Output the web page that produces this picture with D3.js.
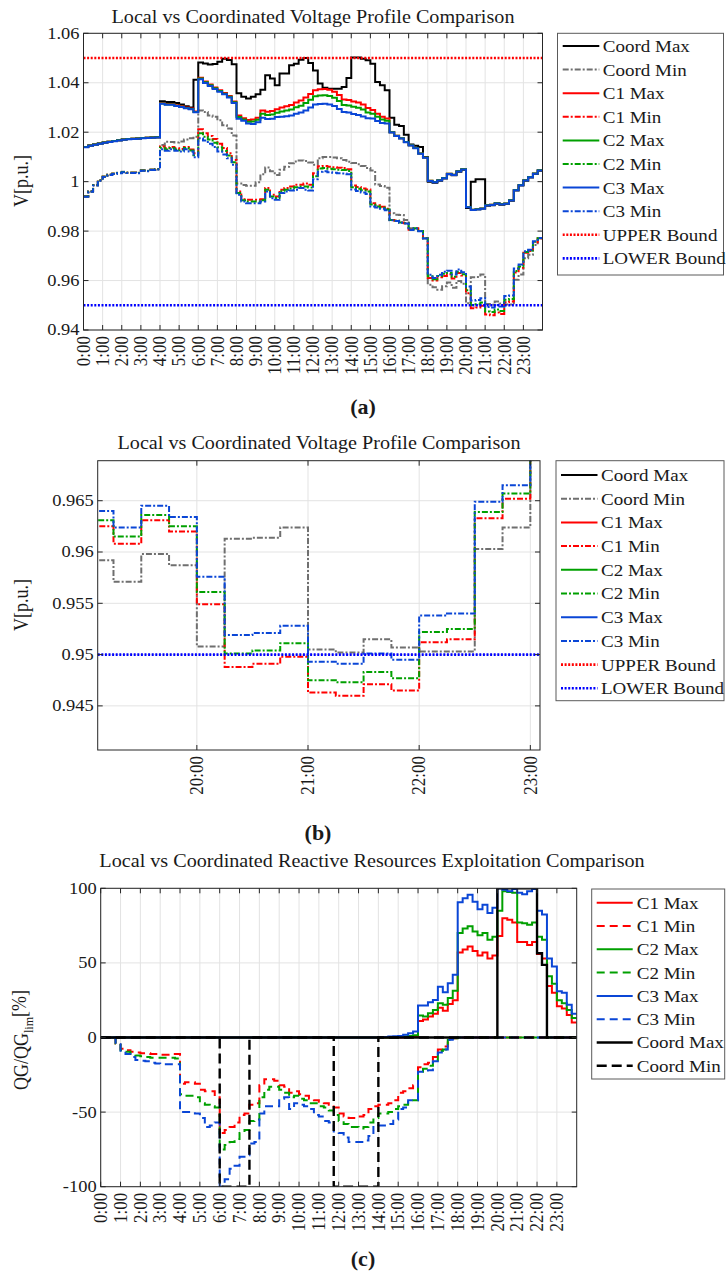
<!DOCTYPE html>
<html><head><meta charset="utf-8">
<script src="https://cdn.jsdelivr.net/npm/d3@7"></script>
<style>
body{margin:0;background:#fff;}
text{font-family:"Liberation Serif","Times New Roman",serif;fill:#1a1a1a;}
</style></head><body>
<svg id="fig" width="726" height="1277" xmlns="http://www.w3.org/2000/svg"></svg>
<script>
// ---------- categories / ticks ----------
const timeSteps = d3.range(96).map(i => i * 0.25);   // quarter-hour steps (hours)
const hourTicks = d3.range(24);
const hourLabels = hourTicks.map(h => h + ":00");
const zoomHourTicks = [20, 21, 22, 23];
const voltTicksA = [0.94, 0.96, 0.98, 1.00, 1.02, 1.04, 1.06];
const voltLabelsA = ["0.94", "0.96", "0.98", "1", "1.02", "1.04", "1.06"];
const voltTicksB = [0.945, 0.95, 0.955, 0.96, 0.965];
const voltLabelsB = ["0.945", "0.95", "0.955", "0.96", "0.965"];
const qTicks = [-100, -50, 0, 50, 100];
const qLabels = ["-100", "-50", "0", "50", "100"];
const boundUpper = 1.05;
const boundLower = 0.95;

// ---------- voltage series (p.u.) ----------
const coordMaxV = [1.0140,1.0146,1.0150,1.0154,1.0158,1.0161,1.0164,1.0167,1.0170,1.0172,1.0174,1.0175,1.0177,1.0178,1.0179,1.0180,
1.0325,1.0322,1.0322,1.0318,1.0312,1.0305,1.0300,1.0412,
1.0482,1.0478,1.0474,1.0476,1.0485,1.0497,1.0492,1.0475,
1.0358,1.0343,1.0336,1.0343,1.0353,1.0372,1.0430,1.0417,
1.0390,1.0437,1.0437,1.0471,1.0477,1.0493,1.0500,1.0480,
1.0450,1.0397,1.0380,1.0376,1.0376,1.0376,1.0383,1.0419,
1.0502,1.0502,1.0497,1.0491,1.0477,1.0403,1.0390,1.0370,
1.0258,1.0230,1.0225,1.0190,1.0150,1.0145,1.0140,1.0100,
1.0000,0.9996,1.0004,1.0013,1.0030,1.0026,1.0040,1.0048,
0.9893,1.0000,1.0010,1.0010,0.9903,0.9905,0.9911,0.9907,
0.9910,0.9923,0.9964,0.9984,1.0004,1.0017,1.0031,1.0044];
const coordMinV = [0.9941,0.9961,0.9986,1.0006,1.0021,1.0029,1.0033,1.0036,1.0040,1.0037,1.0037,1.0036,1.0046,1.0044,1.0049,1.0051,
1.0148,1.0161,1.0160,1.0158,1.0162,1.0170,1.0176,1.0182,
1.0288,1.0282,1.0268,1.0262,1.0248,1.0228,1.0215,1.0187,
0.9993,0.9986,0.9983,0.9983,0.9998,1.0030,1.0057,1.0042,
1.0027,1.0048,1.0060,1.0074,1.0081,1.0086,1.0084,1.0077,
1.0068,1.0095,1.0100,1.0100,1.0098,1.0095,1.0088,1.0080,
1.0075,1.0070,1.0063,1.0055,1.0045,0.9988,0.9982,0.9975,
0.9872,0.9866,0.9865,0.9845,0.9812,0.9810,0.9800,0.9771,
0.9583,0.9573,0.9563,0.9577,0.9592,0.9571,0.9598,0.9587,
0.9508,0.9613,0.9614,0.9624,0.9505,0.9502,0.9515,0.9507,
0.9503,0.9503,0.9603,0.9624,0.9690,0.9704,0.9744,0.9771];
const c1MaxV = [1.0140,1.0146,1.0150,1.0154,1.0158,1.0161,1.0164,1.0167,1.0170,1.0172,1.0174,1.0175,1.0177,1.0178,1.0179,1.0180,
1.0318,1.0314,1.0314,1.0309,1.0305,1.0300,1.0296,1.0284,
1.0420,1.0405,1.0393,1.0381,1.0370,1.0359,1.0346,1.0324,
1.0268,1.0256,1.0249,1.0251,1.0258,1.0288,1.0283,1.0286,
1.0293,1.0300,1.0305,1.0310,1.0320,1.0328,1.0340,1.0355,
1.0370,1.0374,1.0375,1.0372,1.0364,1.0350,1.0332,1.0330,
1.0324,1.0320,1.0312,1.0298,1.0290,1.0275,1.0262,1.0255,
1.0200,1.0186,1.0176,1.0160,1.0147,1.0136,1.0114,1.0098,
1.0004,0.9999,1.0006,1.0015,1.0032,1.0028,1.0042,1.0050,
0.9897,0.9886,0.9888,0.9891,0.9905,0.9907,0.9913,0.9909,
0.9912,0.9925,0.9966,0.9986,1.0006,1.0019,1.0033,1.0046];
const c1MinV = [0.9940,0.9960,0.9985,1.0005,1.0020,1.0028,1.0032,1.0035,1.0039,1.0036,1.0036,1.0035,1.0045,1.0043,1.0048,1.0050,
1.0142,1.0135,1.0140,1.0135,1.0132,1.0140,1.0130,1.0115,
1.0212,1.0196,1.0185,1.0172,1.0153,1.0136,1.0115,1.0088,
0.9960,0.9929,0.9927,0.9927,0.9927,0.9929,0.9974,0.9947,
0.9940,0.9967,0.9974,0.9980,0.9987,0.9987,0.9993,0.9987,
1.0034,1.0062,1.0063,1.0060,1.0058,1.0056,1.0055,1.0050,
0.9984,0.9978,0.9972,0.9968,0.9913,0.9905,0.9898,0.9890,
0.9845,0.9842,0.9835,0.9832,0.9805,0.9812,0.9800,0.9771,
0.9610,0.9600,0.9613,0.9618,0.9625,0.9608,0.9631,0.9620,
0.9549,0.9488,0.9491,0.9498,0.9463,0.9460,0.9471,0.9465,
0.9512,0.9515,0.9633,0.9652,0.9712,0.9720,0.9755,0.9770];
const c2MaxV = [1.0140,1.0146,1.0150,1.0154,1.0158,1.0161,1.0164,1.0167,1.0170,1.0172,1.0174,1.0175,1.0177,1.0178,1.0179,1.0180,
1.0316,1.0312,1.0312,1.0307,1.0303,1.0298,1.0294,1.0282,
1.0417,1.0402,1.0390,1.0378,1.0367,1.0356,1.0343,1.0321,
1.0261,1.0251,1.0242,1.0243,1.0250,1.0275,1.0270,1.0272,
1.0279,1.0284,1.0288,1.0292,1.0301,1.0307,1.0318,1.0331,
1.0345,1.0348,1.0349,1.0346,1.0339,1.0326,1.0310,1.0308,
1.0303,1.0299,1.0292,1.0280,1.0275,1.0262,1.0251,1.0246,
1.0200,1.0186,1.0176,1.0160,1.0147,1.0136,1.0114,1.0098,
1.0004,0.9999,1.0006,1.0015,1.0032,1.0028,1.0042,1.0050,
0.9897,0.9886,0.9888,0.9891,0.9905,0.9907,0.9913,0.9909,
0.9912,0.9925,0.9966,0.9986,1.0006,1.0019,1.0033,1.0046];
const c2MinV = [0.9940,0.9960,0.9985,1.0005,1.0020,1.0028,1.0032,1.0035,1.0039,1.0036,1.0036,1.0035,1.0045,1.0043,1.0048,1.0050,
1.0137,1.0130,1.0136,1.0130,1.0127,1.0136,1.0126,1.0107,
1.0196,1.0182,1.0170,1.0157,1.0139,1.0124,1.0106,1.0078,
0.9954,0.9925,0.9920,0.9920,0.9920,0.9925,0.9967,0.9940,
0.9934,0.9961,0.9967,0.9972,0.9977,0.9980,0.9980,0.9976,
1.0022,1.0053,1.0055,1.0052,1.0050,1.0048,1.0047,1.0043,
0.9977,0.9971,0.9965,0.9960,0.9908,0.9900,0.9894,0.9887,
0.9845,0.9842,0.9835,0.9832,0.9805,0.9812,0.9800,0.9771,
0.9617,0.9605,0.9618,0.9627,0.9631,0.9615,0.9636,0.9625,
0.9561,0.9501,0.9504,0.9511,0.9475,0.9473,0.9483,0.9477,
0.9522,0.9525,0.9639,0.9657,0.9715,0.9722,0.9757,0.9771];
const c3MaxV = [1.0139,1.0145,1.0149,1.0153,1.0157,1.0160,1.0163,1.0166,1.0169,1.0171,1.0173,1.0174,1.0176,1.0177,1.0178,1.0179,
1.0315,1.0311,1.0311,1.0306,1.0302,1.0297,1.0293,1.0281,
1.0414,1.0399,1.0387,1.0375,1.0364,1.0353,1.0340,1.0318,
1.0254,1.0246,1.0235,1.0233,1.0240,1.0258,1.0253,1.0254,
1.0261,1.0262,1.0265,1.0268,1.0275,1.0280,1.0288,1.0300,
1.0312,1.0314,1.0315,1.0312,1.0306,1.0294,1.0282,1.0280,
1.0274,1.0270,1.0264,1.0256,1.0255,1.0245,1.0237,1.0235,
1.0199,1.0185,1.0175,1.0159,1.0146,1.0135,1.0113,1.0097,
1.0003,0.9998,1.0005,1.0014,1.0031,1.0027,1.0041,1.0049,
0.9896,0.9885,0.9887,0.9890,0.9904,0.9906,0.9912,0.9908,
0.9911,0.9924,0.9965,0.9985,1.0005,1.0018,1.0032,1.0045];
const c3MinV = [0.9939,0.9959,0.9984,1.0004,1.0019,1.0027,1.0031,1.0034,1.0038,1.0035,1.0035,1.0034,1.0044,1.0042,1.0047,1.0049,
1.0131,1.0125,1.0131,1.0125,1.0122,1.0131,1.0122,1.0099,
1.0176,1.0166,1.0153,1.0140,1.0122,1.0110,1.0095,1.0068,
0.9947,0.9920,0.9913,0.9913,0.9913,0.9920,0.9960,0.9933,
0.9927,0.9954,0.9960,0.9964,0.9967,0.9974,0.9967,0.9964,
1.0010,1.0040,1.0042,1.0038,1.0036,1.0034,1.0033,1.0030,
0.9968,0.9962,0.9956,0.9950,0.9899,0.9895,0.9890,0.9884,
0.9844,0.9841,0.9834,0.9831,0.9804,0.9811,0.9799,0.9770,
0.9623,0.9610,0.9623,0.9636,0.9640,0.9624,0.9645,0.9634,
0.9576,0.9519,0.9521,0.9528,0.9493,0.9491,0.9501,0.9495,
0.9538,0.9540,0.9649,0.9665,0.9718,0.9725,0.9759,0.9772];

// ---------- reactive power usage series (%) ----------
const c1MaxQ = [0,0,0,0,0,0,0,0,0,0,0,0,0,0,0,0, 0,0,0,0,0,0,0,0, 0,0,0,0,0,0,0,0, 0,0,0,0,0,0,0,0, 0,0,0,0,0,0,0,0, 0,0,0,0,0,0,0,0,
0,0,0,0,0,0.3,0.5,1,
11,12,14,16,20,18,22.5,25,
57,59,61,58,55,57,53,55,
68,80,79,77,64,64,62,64,
56,53,34.5,30,21,19.5,15,10];
const c1MinQ = [0,0,0,-4,-7.5,-8.5,-9.5,-10,-10.5,-10.5,-11,-11,-11.5,-11.5,-11,-11,
-31,-30,-30,-31,-35,-36,-36,-40,
-64,-62,-60,-57,-52,-51,-45,-44,
-32,-28,-28,-29,-32,-33,-37,-36,
-38,-39,-41,-42,-43,-44,-45,-47,
-51,-53,-54,-54,-53,-52,-48,-46,
-45,-45,-44,-42,-37,-36,-34,-32,
-20,-18,-17,-13,-8,-6,-1,-0.5,
0,0,0,0,0,0,0,0, 0,0,0,0,0,0,0,0, 0,0,0,0,0,0,0,0];
const c2MaxQ = [0,0,0,0,0,0,0,0,0,0,0,0,0,0,0,0, 0,0,0,0,0,0,0,0, 0,0,0,0,0,0,0,0, 0,0,0,0,0,0,0,0, 0,0,0,0,0,0,0,0, 0,0,0,0,0,0,0,0,
0,0,0,0,0.3,0.6,1,1.5,
14.7,14,16.3,18.5,23,22,26.4,31.3,
70,73,74.5,71,68.5,70,65.5,67.5,
85,98,97.5,97,77,76.5,75.5,77,
67.5,65.5,41,36,25,23,18.5,13];
const c2MinQ = [0,0,0,-4,-8.5,-9.5,-11,-12,-12.5,-13,-13.5,-13.5,-13.5,-13.5,-13.5,-14,
-38,-39,-39,-40,-44,-45,-46,-47,
-75,-72,-70,-68,-64,-62,-56,-55,
-40,-35,-33,-33,-35,-37,-40,-39,
-41,-42,-44,-44,-46,-47,-49,-52,
-56,-58,-60,-60,-61,-60,-57,-54,
-51,-51,-50,-48,-46,-45,-43,-42,
-23,-21,-19,-15,-9,-8,-1.5,-0.5,
0,0,0,0,0,0,0,0, 0,0,0,0,0,0,0,0, 0,0,0,0,0,0,0,0];
const c3MaxQ = [0,0,0,0,0,0,0,0,0,0,0,0,0,0,0,0, 0,0,0,0,0,0,0,0, 0,0,0,0,0,0,0,0, 0,0,0,0,0,0,0,0, 0,0,0,0,0,0,0,0, 0,0,0,0,0,0,0,0,
0.2,0.4,0.6,0.8,1,1.8,2.9,4,
21.4,21.5,23.7,25.2,34,30.4,36.4,42,
90.7,93.4,95.6,91,86,89,83.5,87,
100,99,98,99.5,97,96,98,99.5,
85,82.5,53,47.6,31,30,22,16];
const c3MinQ = [0,0,0,-4.5,-9.5,-11,-13,-15,-15.5,-16,-17,-17.5,-18,-18,-18,-18,
-50,-50,-50,-51,-54,-60,-59,-57,
-100,-95,-88,-86,-80,-79,-71,-70,
-51,-46,-46,-46,-41,-40,-48,-44,
-45,-46,-48,-52,-53,-56,-57,-63,
-64,-67,-70,-70,-70,-69,-66,-60,
-59,-59,-58,-55,-48,-47,-42,-42,
-23,-23,-22,-16,-10,-8,-1.5,-0.5,
0,0,0,0,0,0,0,0, 0,0,0,0,0,0,0,0, 0,0,0,0,0,0,0,0];
const coordMaxQ = [0,0,0,0,0,0,0,0,0,0,0,0,0,0,0,0, 0,0,0,0,0,0,0,0, 0,0,0,0,0,0,0,0, 0,0,0,0,0,0,0,0, 0,0,0,0,0,0,0,0, 0,0,0,0,0,0,0,0,
0,0,0,0,0,0,0,0, 0,0,0,0,0,0,0,0, 0,0,0,0,0,0,0,0,
100,100,100,100,100,100,100,100,
56.5,48.7,0,0,0,0,0,0];
const coordMinQ = [0,0,0,0,0,0,0,0,0,0,0,0,0,0,0,0, 0,0,0,0,0,0,0,0,
-100,-100,-100,-100,-100,-100,0,0,
0,0,0,0,0,0,0,0, 0,0,0,0,0,0,0,-100,
-100,-100,-100,-100,-100,-100,-100,-100,
0,0,0,0,0,0,0,0, 0,0,0,0,0,0,0,0, 0,0,0,0,0,0,0,0, 0,0,0,0,0,0,0,0, 0,0,0,0,0,0,0,0];

// ---------- styling ----------
const COL = {black:"#000000", gray:"#6f6f6f", red:"#ff0000", green:"#00a000", blue:"#0a46d6", bblue:"#0000ff"};
const SX = 1.12;            // horizontal glyph stretch seen in the reference
const DASHDOT = "6,2,2,2";
const DASHC = "8,5";
const DOT = "2,1.6";

const svg = d3.select("#fig");
svg.append("rect").attr("width",726).attr("height",1277).attr("fill","#fff");

function addText(parent, x, y, s, o) {
  o = o || {};
  const g = parent.append("g").attr("transform",
     `translate(${x},${y}) scale(${o.sx ?? SX},1)` + (o.rot ? ` rotate(${o.rot})` : ""));
  const t = g.append("text")
     .attr("font-size", o.size || 16)
     .attr("text-anchor", o.anchor || "start")
     .attr("dy", o.dy || 0)
     .attr("font-weight", o.weight || "normal");
  if (s !== null) t.text(s);
  return t;
}

let clipId = 0;
function panel(p) {
  const g = svg.append("g");
  const x = d3.scaleLinear().domain(p.xDomain).range([p.x0, p.x1]);
  const y = d3.scaleLinear().domain(p.yDomain).range([p.y1, p.y0]);
  // grid
  g.selectAll(null).data(p.xTicks).join("line")
    .attr("x1", d => x(d)).attr("x2", d => x(d)).attr("y1", p.y0).attr("y2", p.y1)
    .attr("stroke", "#e3e3e3").attr("stroke-width", 1);
  g.selectAll(null).data(p.yTicks).join("line")
    .attr("y1", d => y(d)).attr("y2", d => y(d)).attr("x1", p.x0).attr("x2", p.x1)
    .attr("stroke", "#e3e3e3").attr("stroke-width", 1);
  // clip
  const cid = "clip" + (clipId++);
  g.append("clipPath").attr("id", cid).append("rect")
    .attr("x", p.x0).attr("y", p.y0).attr("width", p.x1 - p.x0).attr("height", p.y1 - p.y0);
  const plot = g.append("g").attr("clip-path", `url(#${cid})`);
  const line = d3.line().x(d => x(d[0])).y(d => y(d[1])).curve(d3.curveStepAfter);
  p.series.forEach(s => {
    if (s.hline !== undefined) {
      plot.append("line").attr("x1", p.x0).attr("x2", p.x1)
        .attr("y1", y(s.hline)).attr("y2", y(s.hline))
        .attr("stroke", s.color).attr("stroke-width", s.width)
        .attr("stroke-dasharray", s.dash || null);
      return;
    }
    const pts = timeSteps.map((t, i) => [t, s.values[i]]);
    pts.push([24, s.values[s.values.length - 1]]);
    plot.append("path").attr("d", line(pts)).attr("fill", "none")
      .attr("stroke", s.color).attr("stroke-width", s.width)
      .attr("stroke-dasharray", s.dash || null)
      .attr("stroke-linejoin", "miter");
  });
  // box
  g.append("rect").attr("x", p.x0).attr("y", p.y0).attr("width", p.x1 - p.x0).attr("height", p.y1 - p.y0)
    .attr("fill", "none").attr("stroke", "#262626").attr("stroke-width", 1);
  const tl = 5;
  p.xTicks.forEach(t => {
    g.append("line").attr("x1", x(t)).attr("x2", x(t)).attr("y1", p.y1).attr("y2", p.y1 - tl).attr("stroke", "#262626");
    g.append("line").attr("x1", x(t)).attr("x2", x(t)).attr("y1", p.y0).attr("y2", p.y0 + tl).attr("stroke", "#262626");
  });
  p.yTicks.forEach(t => {
    g.append("line").attr("y1", y(t)).attr("y2", y(t)).attr("x1", p.x0).attr("x2", p.x0 + tl).attr("stroke", "#262626");
    g.append("line").attr("y1", y(t)).attr("y2", y(t)).attr("x1", p.x1).attr("x2", p.x1 - tl).attr("stroke", "#262626");
  });
  // tick labels
  p.yTicks.forEach((t, i) => addText(g, p.x0 - 4, y(t), p.yLabels[i], {size: 16.5, anchor: "end", dy: "0.33em"}));
  p.xTicks.forEach((t, i) => addText(g, x(t), p.y1 + 6, p.xLabels[i], {size: 17, anchor: "end", dy: "0.33em", rot: -90, sx: SX}));
  // title
  addText(g, p.titleX, p.titleY, p.title, {size: 18, anchor: "middle"});
  // y label
  if (p.yLabelParts) {
    const t = addText(g, p.yLabelX, p.yLabelY, null, {size: 18, anchor: "middle", rot: -90});
    p.yLabelParts.forEach(part => {
      t.append("tspan").text(part.t).attr("font-size", part.sub ? 12 : 18).attr("dy", part.dy || 0);
    });
  }
  return {x, y};
}

function legend(l) {
  const g = svg.append("g");
  g.append("rect").attr("x", l.x).attr("y", l.y).attr("width", l.w).attr("height", l.h)
    .attr("fill", "#fff").attr("stroke", "#5a5a5a").attr("stroke-width", 1);
  l.entries.forEach((e, i) => {
    const yy = l.row0 + i * l.gap;
    g.append("line").attr("x1", l.s0).attr("x2", l.s1).attr("y1", yy).attr("y2", yy)
      .attr("stroke", e.color).attr("stroke-width", e.width).attr("stroke-dasharray", e.dash || null);
    addText(g, l.tx, yy, e.label, {size: 17, dy: "0.35em"});
  });
}

// ---------- panel (a) ----------
const voltSeries = [
  {label:"Coord Max", values:coordMaxV, color:COL.black, width:2},
  {label:"Coord Min", values:coordMinV, color:COL.gray, width:2, dash:DASHDOT},
  {label:"C1 Max", values:c1MaxV, color:COL.red, width:2},
  {label:"C1 Min", values:c1MinV, color:COL.red, width:2, dash:DASHDOT},
  {label:"C2 Max", values:c2MaxV, color:COL.green, width:2},
  {label:"C2 Min", values:c2MinV, color:COL.green, width:2, dash:DASHDOT},
  {label:"C3 Max", values:c3MaxV, color:COL.blue, width:2},
  {label:"C3 Min", values:c3MinV, color:COL.blue, width:2, dash:DASHDOT},
  {label:"UPPER Bound", hline:boundUpper, color:COL.red, width:2.6, dash:DOT},
  {label:"LOWER Bound", hline:boundLower, color:COL.bblue, width:2.6, dash:DOT}
];
const vLabel = [{t:"V[p.u.]"}];

panel({x0:83.5, x1:542.5, y0:33.3, y1:330, xDomain:[0,24], yDomain:[0.94,1.06],
  xTicks:hourTicks, xLabels:hourLabels, yTicks:voltTicksA, yLabels:voltLabelsA,
  series:voltSeries, title:"Local vs Coordinated Voltage Profile Comparison", titleX:313, titleY:23,
  yLabelParts:vLabel, yLabelX:28, yLabelY:181});
legend({x:557.5, y:33.3, w:166, h:241.7, row0:46, gap:23.6, s0:562.7, s1:599.3, tx:602.7,
  entries:voltSeries});
addText(svg, 363, 414, "(a)", {size: 22, anchor: "middle", weight: "bold", sx: 1});

// ---------- panel (b) ----------
panel({x0:97.7, x1:540, y0:460.7, y1:750, xDomain:[19.108,23.087], yDomain:[0.9407,0.9689],
  xTicks:zoomHourTicks, xLabels:zoomHourTicks.map(h => h + ":00"), yTicks:voltTicksB, yLabels:voltLabelsB,
  series:voltSeries, title:"Local vs Coordinated Voltage Profile Comparison", titleX:319, titleY:449,
  yLabelParts:vLabel, yLabelX:28, yLabelY:605});
legend({x:556, y:460.7, w:168, h:240, row0:475, gap:23.7, s0:561, s1:597.5, tx:601,
  entries:voltSeries});
addText(svg, 318, 840, "(b)", {size: 22, anchor: "middle", weight: "bold", sx: 1});

// ---------- panel (c) ----------
const qSeries = [
  {label:"C1 Max", values:c1MaxQ, color:COL.red, width:2},
  {label:"C1 Min", values:c1MinQ, color:COL.red, width:2, dash:DASHC},
  {label:"C2 Max", values:c2MaxQ, color:COL.green, width:2},
  {label:"C2 Min", values:c2MinQ, color:COL.green, width:2, dash:DASHC},
  {label:"C3 Max", values:c3MaxQ, color:COL.blue, width:2},
  {label:"C3 Min", values:c3MinQ, color:COL.blue, width:2, dash:DASHC},
  {label:"Coord Max", values:coordMaxQ, color:COL.black, width:2.4},
  {label:"Coord Min", values:coordMinQ, color:COL.black, width:2.4, dash:"10,5"}
];
panel({x0:100.7, x1:576.7, y0:888.3, y1:1186.7, xDomain:[0,24], yDomain:[-100,100],
  xTicks:hourTicks, xLabels:hourLabels, yTicks:qTicks, yLabels:qLabels,
  series:qSeries, title:"Local vs Coordinated Reactive Resources Exploitation Comparison", titleX:372, titleY:867,
  yLabelParts:[{t:"QG/QG"},{t:"lim",sub:true,dy:"0.35em"},{t:"[%]",dy:"-0.35em"}], yLabelX:28, yLabelY:1040});
legend({x:591.7, y:889, w:133, h:190, row0:902.7, gap:23.3, s0:596.7, s1:632.7, tx:636.7,
  entries:qSeries});
addText(svg, 363, 1266, "(c)", {size: 22, anchor: "middle", weight: "bold", sx: 1});
</script>
</body></html>
